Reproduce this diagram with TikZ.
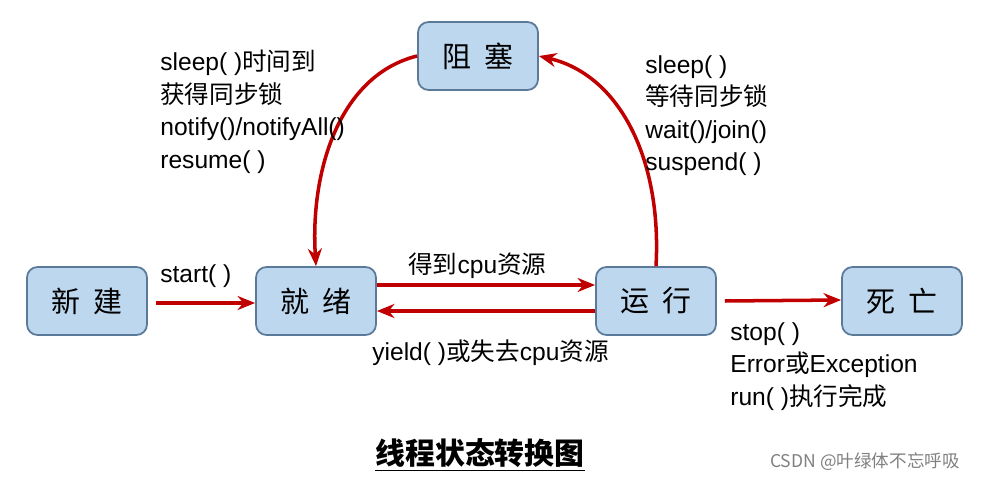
\documentclass[tikz,border=0pt]{standalone}
\usepackage{fontspec}
\setmainfont{Liberation Sans}
\newfontfamily\cjk{Noto Sans CJK SC}
\usetikzlibrary{arrows.meta}
\definecolor{boxfill}{HTML}{BDD7EE}
\definecolor{boxdraw}{HTML}{5B7A99}
\definecolor{arr}{HTML}{C00000}
\begin{document}
\begin{tikzpicture}[x=0.02cm,y=-0.02cm,
  st/.style={draw=boxdraw,line width=1pt,fill=boxfill,rounded corners=6pt,minimum width=120*0.02cm,minimum height=68*0.02cm,font=\cjk\fontsize{16.5}{18}\selectfont},
  ar/.style={draw=arr,line width=2pt,-{Stealth[length=10pt,width=8pt]}},
  lb/.style={font=\fontsize{14}{18.5}\selectfont,align=left,inner sep=0pt}]
\useasboundingbox (0,0) rectangle (985,479);
\node[st] (new) at (87,301) {新\ \ 建};
\node[st] (ready) at (316,301) {就\ \ 绪};
\node[st] (run) at (656,301) {运\ \ 行};
\node[st] (dead) at (902,301) {死\ \ 亡};
\node[st] (block) at (478,56) {阻\ \ 塞};
\draw[ar] (new.east) ++(8,2) coordinate (a1) -- ([yshift=-2*0.02cm]ready.west);
\draw[ar] ([yshift=16*0.02cm]ready.east) -- ([yshift=16*0.02cm]run.west);
\draw[ar] ([yshift=-10*0.02cm]run.west) -- ([yshift=-10*0.02cm]ready.east);
\draw[ar] ([xshift=8*0.02cm]run.east) -- ([yshift=1*0.02cm]dead.west);
\draw[ar] (block.west) .. controls (340,75) and (310,170) .. (ready.north);
\draw[ar] (run.north) .. controls (662,160) and (620,75) .. (block.east);
\node[lb,anchor=west] at (160,276) {start( )};
\node[lb,anchor=west] at (408,266) {{\cjk 得到}cpu{\cjk 资源}};
\node[lb,anchor=west] at (372,353) {yield( ){\cjk 或失去}cpu{\cjk 资源}};
\node[lb,anchor=north west] at (730,322) {stop( )\\Error{\cjk 或}Exception\\run( ){\cjk 执行完成}};
\node[lb,anchor=north west] at (160,50) {sleep( ){\cjk 时间到}\\{\cjk 获得同步锁}\\notify()/notifyAll()\\resume( )};
\node[lb,anchor=north west] at (645,55) {sleep( )\\{\cjk 等待同步锁}\\wait()/join()\\suspend( )};
\node[font=\cjk\bfseries\fontsize{17}{20}\selectfont] (title) at (480,455) {\underline{线程状态转换图}};
\node[font=\cjk\fontsize{10}{12}\selectfont,text=gray] (wm) at (865,462) {CSDN @叶绿体不忘呼吸};
\end{tikzpicture}
\end{document}
